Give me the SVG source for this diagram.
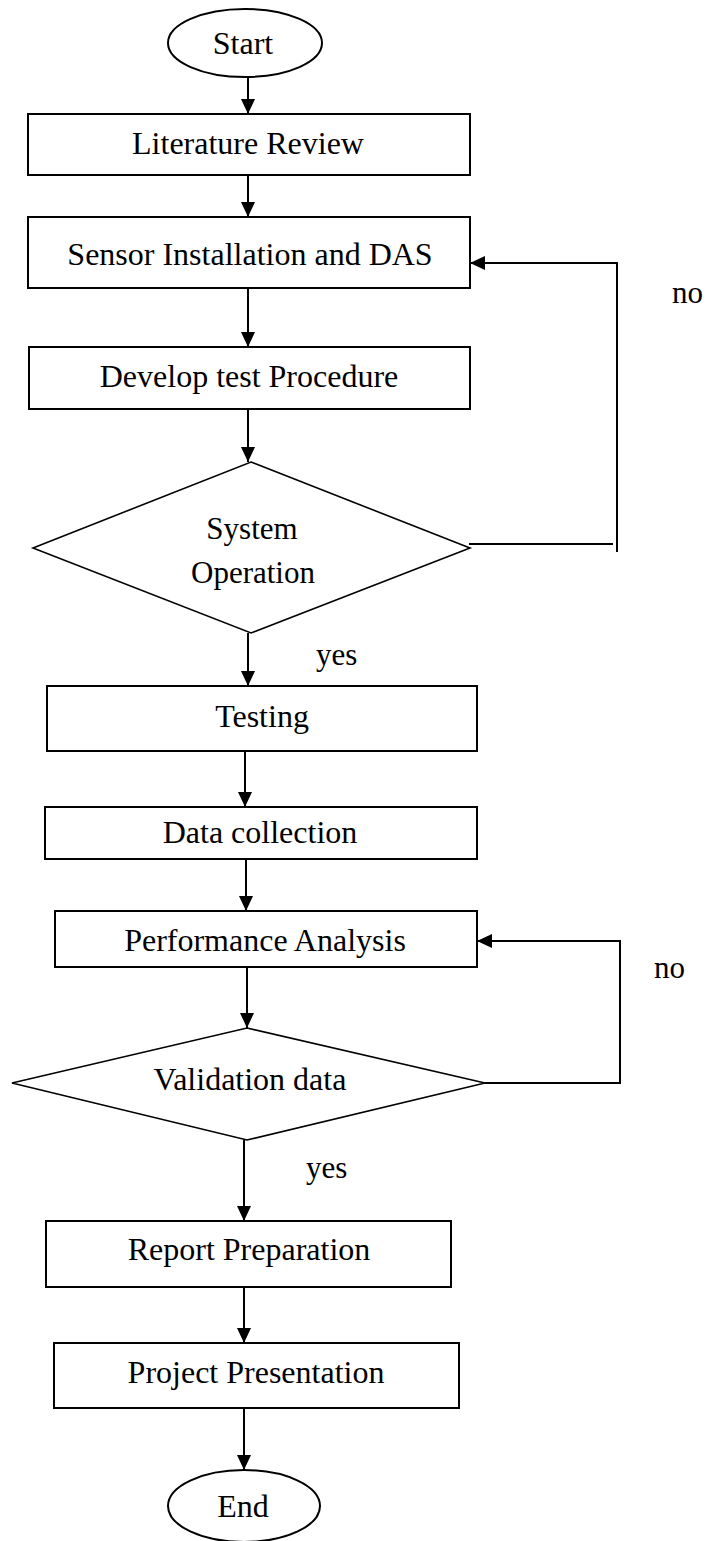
<svg xmlns="http://www.w3.org/2000/svg" width="710" height="1541" viewBox="0 0 710 1541">
<style>
  .box{fill:#fff;stroke:#000;stroke-width:2}
  .dia{fill:#fff;stroke:#000;stroke-width:1.6}
  .t{font-family:"Liberation Serif","Times New Roman",serif;font-size:32px;fill:#000;text-anchor:middle}
  .t30{font-size:31px}
  .lbl{font-family:"Liberation Serif","Times New Roman",serif;font-size:31px;fill:#000}
  .c{fill:none;stroke:#000;stroke-width:2}
</style>
<defs>
  <marker id="ah" markerUnits="userSpaceOnUse" markerWidth="15" markerHeight="14" refX="15" refY="7" orient="auto">
    <path d="M0,0 L15,7 L0,14 z" fill="#000"/>
  </marker>
</defs>
<g id="connectors">
  <path class="c" d="M248,78 V114" marker-end="url(#ah)"/>
  <path class="c" d="M248,175 V217" marker-end="url(#ah)"/>
  <path class="c" d="M248,288 V347" marker-end="url(#ah)"/>
  <path class="c" d="M248,409 V462" marker-end="url(#ah)"/>
  <path class="c" d="M248,633 V686" marker-end="url(#ah)"/>
  <path class="c" d="M245,751 V807" marker-end="url(#ah)"/>
  <path class="c" d="M246,859 V911" marker-end="url(#ah)"/>
  <path class="c" d="M247,967 V1028" marker-end="url(#ah)"/>
  <path class="c" d="M244,1140 V1221" marker-end="url(#ah)"/>
  <path class="c" d="M244,1287 V1343" marker-end="url(#ah)"/>
  <path class="c" d="M244,1408 V1470" marker-end="url(#ah)"/>
  <path class="c" d="M469,544 H613"/>
  <path class="c" d="M617,552 V263 H470" marker-end="url(#ah)"/>
  <path class="c" d="M485,1083 H620 V941 H477" marker-end="url(#ah)"/>
  <text class="lbl" x="672" y="303">no</text>
  <text class="lbl" x="316" y="665">yes</text>
  <text class="lbl" x="654" y="978">no</text>
  <text class="lbl" x="306" y="1178">yes</text>
</g>
<g id="start"><ellipse class="box" cx="245" cy="43" rx="77" ry="34"/><text class="t" x="243" y="54">Start</text></g>
<g id="literature"><rect class="box" x="28" y="114" width="442" height="61"/><text class="t" x="248" y="154">Literature Review</text></g>
<g id="sensor"><rect class="box" x="28" y="217" width="442" height="71"/><text class="t" x="250" y="265">Sensor Installation and DAS</text></g>
<g id="develop"><rect class="box" x="29" y="347" width="441" height="62"/><text class="t" x="249" y="387">Develop test Procedure</text></g>
<g id="system"><polygon class="dia" points="251,462 470,548 251,633 33,548"/><text class="t t30" x="252" y="539">System</text><text class="t t30" x="253" y="583">Operation</text></g>
<g id="testing"><rect class="box" x="47" y="686" width="430" height="65"/><text class="t" x="262" y="727">Testing</text></g>
<g id="data"><rect class="box" x="45" y="807" width="432" height="52"/><text class="t" x="260" y="843">Data collection</text></g>
<g id="performance"><rect class="box" x="55" y="911" width="422" height="56"/><text class="t" x="265" y="951">Performance Analysis</text></g>
<g id="validation"><polygon class="dia" points="247,1028 485,1083 247,1140 12,1083"/><text class="t" x="250" y="1090">Validation data</text></g>
<g id="report"><rect class="box" x="46" y="1221" width="405" height="66"/><text class="t" x="249" y="1260">Report Preparation</text></g>
<g id="project"><rect class="box" x="54" y="1343" width="405" height="65"/><text class="t" x="256" y="1383">Project Presentation</text></g>
<g id="end"><ellipse class="box" cx="244" cy="1506" rx="76" ry="36"/><text class="t" x="243" y="1517">End</text></g>
</svg>
